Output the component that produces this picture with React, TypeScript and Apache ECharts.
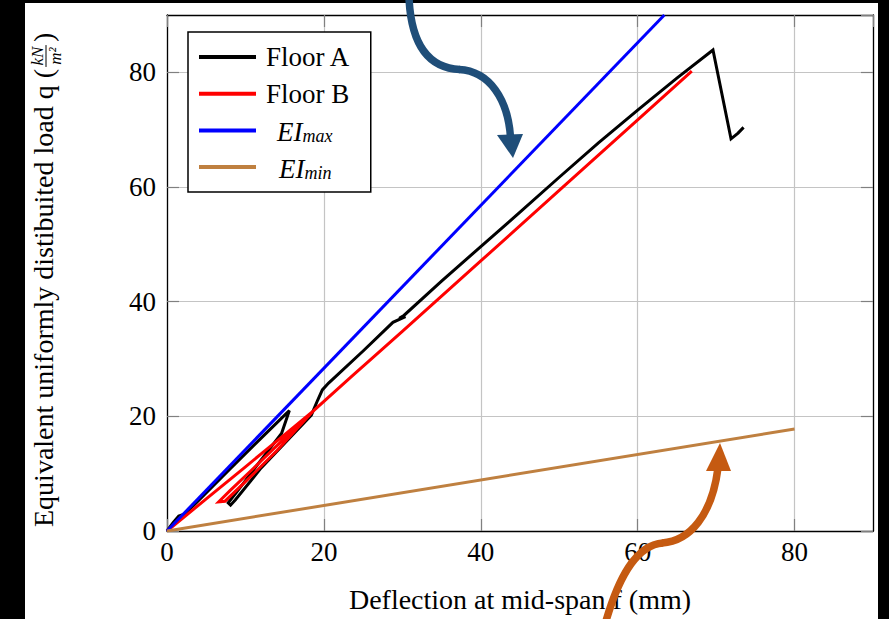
import React, { useEffect, useRef } from "react";
import * as echarts from "echarts";

// ---- data ----
const floorAX = [0, 0.8, 1.5, 2.3, 4, 8, 12, 15.0, 15.6, 14.6, 12, 9, 7.8, 8.1, 8.7, 12, 15, 18.4, 19.2, 19.8, 20.6, 25, 28.8, 30.4, 29.6, 30.2, 35, 40, 45, 50, 55, 60, 65, 69.6, 71.9, 72.8, 73.5];
const floorAY = [0, 1.5, 2.6, 3.0, 5.3, 10.8, 16.2, 20.2, 21.0, 17.0, 12.4, 7.0, 4.9, 4.5, 5.4, 11.0, 15.3, 20.2, 22.8, 24.6, 25.8, 31.4, 36.4, 37.4, 37.1, 37.6, 43.6, 49.6, 55.6, 61.7, 67.7, 73.4, 79.0, 83.9, 68.4, 69.4, 70.4];
const floorBX = [0, 5, 10, 15, 18.7, 15, 11, 8, 6.6, 7.4, 10, 14, 18.7, 23.4, 30, 40, 50, 60, 66.9];
const floorBY = [0, 5.6, 11.2, 16.8, 21.0, 16.2, 10.9, 7.0, 5.1, 5.2, 8.6, 14.0, 21.0, 26.8, 34.8, 47.1, 59.4, 71.7, 80.2];
const eiMaxX = [0, 63.4];
const eiMaxY = [0, 90];
const eiMinX = [0, 80];
const eiMinY = [0, 17.8];

const seriesNames = ["Floor A", "Floor B", "EImax", "EImin"];
const seriesColors = ["#000000", "#ff0000", "#0000ff", "#bf8040"];
const xTitle = "Deflection at mid-span f (mm)";
const yTitleMain = "Equivalent uniformly distibuited load q (";
const yFracNum = "kN";
const yFracDen = "m\u00b2";

const SERIF = '"Liberation Serif", "Times New Roman", serif';

function pairs(xs: number[], ys: number[]) {
  return xs.map((x, i) => [x, ys[i]]);
}

export default function App() {
  const ref = useRef<HTMLDivElement>(null);

  useEffect(() => {
    if (!ref.current) return;
    const chart = echarts.init(ref.current, undefined, { renderer: "svg" });

    const canvas = document.createElement("canvas");
    const ctx = canvas.getContext("2d")!;
    ctx.font = '28px "Liberation Serif"';
    const W = ctx.measureText(yTitleMain).width;
    ctx.font = 'italic 17px "Liberation Serif"';
    const fw = Math.max(ctx.measureText(yFracNum).width, ctx.measureText(yFracDen).width) + 3;

    const datasets = [
      pairs(floorAX, floorAY),
      pairs(floorBX, floorBY),
      pairs(eiMaxX, eiMaxY),
      pairs(eiMinX, eiMinY),
    ];

    const legendText: Record<string, string> = {
      "Floor A": "{a|Floor A}",
      "Floor B": "{a|Floor B}",
      EImax: "{e|EI}{s|max}",
      EImin: "{f|EI}{s|min}",
    };

    const axisCommon = {
      type: "value" as const,
      min: 0,
      max: 90,
      interval: 20,
    };

    const option: any = {
      animation: false,
      backgroundColor: "transparent",
      grid: { left: 167, top: 15, right: 16, bottom: 88, containLabel: false },
      xAxis: [
        {
          ...axisCommon,
          position: "bottom",
          name: xTitle,
          nameLocation: "middle",
          nameGap: 54,
          nameTextStyle: { fontSize: 28, fontFamily: SERIF, color: "#000" },
          axisLine: { show: true, onZero: false, lineStyle: { color: "#000", width: 1.3 } },
          axisTick: { show: true, inside: true, length: 12, lineStyle: { color: "#808080", width: 1.2 } },
          axisLabel: { fontSize: 27, fontFamily: SERIF, color: "#000", margin: 7, showMaxLabel: false },
          splitLine: { show: true, lineStyle: { color: "#c4c4c4", width: 1.2 } },
        },
        {
          ...axisCommon,
          position: "top",
          axisLine: { show: true, onZero: false, lineStyle: { color: "#000", width: 1.3 } },
          axisTick: { show: true, inside: true, length: 12, lineStyle: { color: "#808080", width: 1.2 } },
          axisLabel: { show: false },
          splitLine: { show: false },
        },
      ],
      yAxis: [
        {
          ...axisCommon,
          position: "left",
          axisLine: { show: true, onZero: false, lineStyle: { color: "#000", width: 1.3 } },
          axisTick: { show: true, inside: true, length: 12, lineStyle: { color: "#808080", width: 1.2 } },
          axisLabel: { fontSize: 27, fontFamily: SERIF, color: "#000", margin: 11, showMaxLabel: false },
          splitLine: { show: true, lineStyle: { color: "#c4c4c4", width: 1.2 } },
        },
        {
          ...axisCommon,
          position: "right",
          axisLine: { show: true, onZero: false, lineStyle: { color: "#000", width: 1.3 } },
          axisTick: { show: true, inside: true, length: 12, lineStyle: { color: "#808080", width: 1.2 } },
          axisLabel: { show: false },
          splitLine: { show: false },
        },
      ],
      legend: {
        show: true,
        orient: "vertical",
        left: 188,
        top: 32,
        padding: [10, 20, 10, 11],
        itemGap: 6.7,
        itemWidth: 57,
        itemHeight: 4,
        icon: "rect",
        backgroundColor: "#fff",
        borderColor: "#000",
        borderWidth: 1.5,
        borderRadius: 0,
        selectedMode: false,
        data: seriesNames,
        formatter: (name: string) => legendText[name],
        textStyle: {
          color: "#000",
          fontFamily: SERIF,
          fontSize: 27,
          lineHeight: 30,
          rich: {
            a: { fontFamily: SERIF, fontSize: 27, lineHeight: 30, color: "#000", padding: [0, 0, 0, 5] },
            e: { fontFamily: SERIF, fontStyle: "italic", fontSize: 27, lineHeight: 30, color: "#000", padding: [0, 0, 0, 16], verticalAlign: "bottom" },
            f: { fontFamily: SERIF, fontStyle: "italic", fontSize: 27, lineHeight: 30, color: "#000", padding: [0, 0, 0, 18], verticalAlign: "bottom" },
            s: { fontFamily: SERIF, fontStyle: "italic", fontSize: 18, lineHeight: 20, color: "#000", verticalAlign: "bottom" },
          },
        },
      },
      series: seriesNames.map((name, i) => ({
        name,
        type: "line",
        xAxisIndex: 0,
        yAxisIndex: 0,
        data: datasets[i],
        showSymbol: false,
        symbol: "none",
        silent: true,
        clip: true,
        color: seriesColors[i],
        lineStyle: { color: seriesColors[i], width: 3, join: "miter", cap: "butt" },
        emphasis: { disabled: true },
        z: 2 + i,
      })),
      graphic: [
        {
          type: "group",
          x: 43,
          y: 527,
          rotation: Math.PI / 2,
          silent: true,
          children: [
            {
              type: "text",
              style: {
                text: yTitleMain,
                x: 0,
                y: 0,
                font: '28px "Liberation Serif"',
                fill: "#000",
                textAlign: "left",
                textVerticalAlign: "middle",
                align: "left",
                verticalAlign: "middle",
              },
            },
            {
              type: "text",
              style: {
                text: yFracNum,
                x: W + 2 + fw / 2,
                y: -6,
                font: 'italic 17px "Liberation Serif"',
                fill: "#000",
                textAlign: "center",
                textVerticalAlign: "middle",
                align: "center",
                verticalAlign: "middle",
              },
            },
            {
              type: "line",
              shape: { x1: W + 2, y1: 3, x2: W + 2 + fw, y2: 3 },
              style: { stroke: "#000", lineWidth: 1 },
            },
            {
              type: "text",
              style: {
                text: yFracDen,
                x: W + 2 + fw / 2,
                y: 12,
                font: 'italic 17px "Liberation Serif"',
                fill: "#000",
                textAlign: "center",
                textVerticalAlign: "middle",
                align: "center",
                verticalAlign: "middle",
              },
            },
            {
              type: "text",
              style: {
                text: ")",
                x: W + fw + 5,
                y: 0,
                font: '28px "Liberation Serif"',
                fill: "#000",
                textAlign: "left",
                textVerticalAlign: "middle",
                align: "left",
                verticalAlign: "middle",
              },
            },
          ],
        },
        // blue annotation arrow
        {
          type: "bezierCurve",
          z: 100,
          silent: true,
          shape: { x1: 409, y1: -2, cpx1: 411, cpy1: 40, cpx2: 425, cpy2: 68, x2: 460, y2: 69.5 },
          style: { stroke: "#1f4e79", lineWidth: 7.5, fill: "none" },
        },
        {
          type: "bezierCurve",
          z: 100,
          silent: true,
          shape: { x1: 459, y1: 69.5, cpx1: 490, cpy1: 71, cpx2: 508, cpy2: 100, x2: 510.5, y2: 137 },
          style: { stroke: "#1f4e79", lineWidth: 7.5, fill: "none" },
        },
        {
          type: "polygon",
          z: 100,
          silent: true,
          shape: { points: [[497, 135], [523, 134], [513, 158]] },
          style: { fill: "#1f4e79" },
        },
        // orange annotation arrow
        {
          type: "bezierCurve",
          z: 100,
          silent: true,
          shape: { x1: 606, y1: 621, cpx1: 618, cpy1: 580, cpx2: 635, cpy2: 545, x2: 663, y2: 543 },
          style: { stroke: "#c55a11", lineWidth: 7.5, fill: "none" },
        },
        {
          type: "bezierCurve",
          z: 100,
          silent: true,
          shape: { x1: 662, y1: 543, cpx1: 690, cpy1: 541, cpx2: 712, cpy2: 515, x2: 718, y2: 468 },
          style: { stroke: "#c55a11", lineWidth: 7.5, fill: "none" },
        },
        {
          type: "polygon",
          z: 100,
          silent: true,
          shape: { points: [[706, 471], [731, 471], [720, 443]] },
          style: { fill: "#c55a11" },
        },
      ],
    };

    chart.setOption(option);
    return () => chart.dispose();
  }, []);

  return (
    <div style={{ position: "fixed", left: 0, top: 0, width: 889, height: 619, background: "#000", overflow: "hidden" }}>
      <div style={{ position: "absolute", left: 25, top: 3, width: 853, height: 616, background: "#fff" }} />
      <div ref={ref} style={{ position: "absolute", left: 0, top: 0, width: 889, height: 619 }} />
    </div>
  );
}
